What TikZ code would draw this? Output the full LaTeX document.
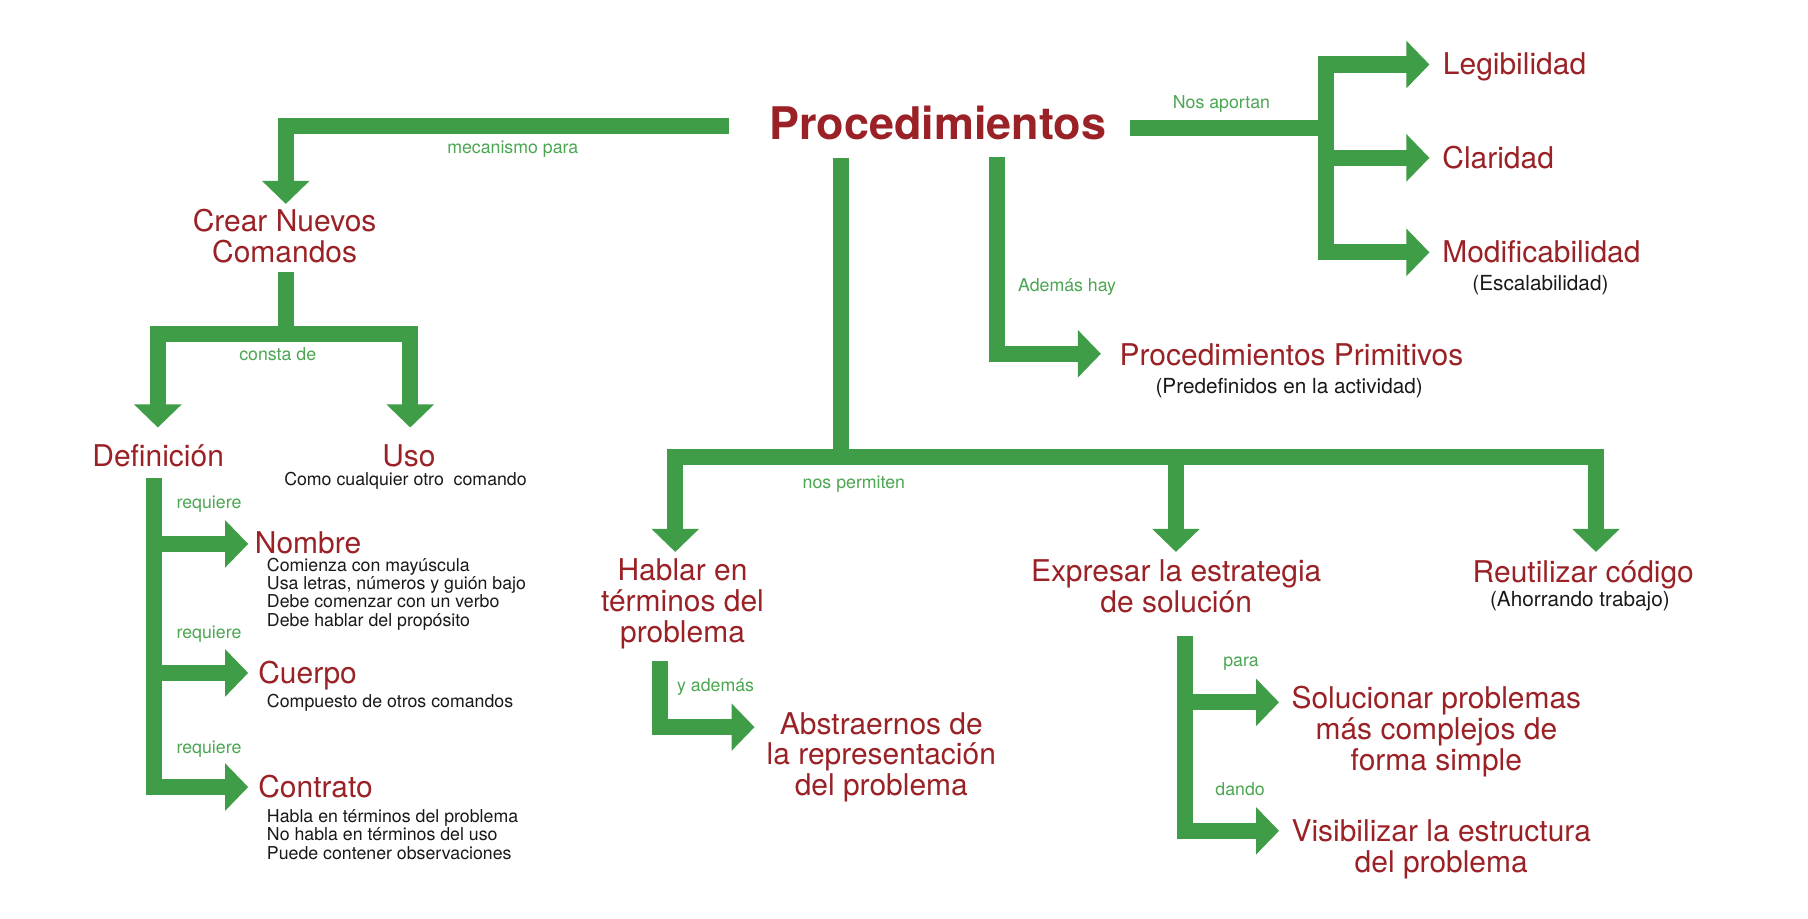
\documentclass[tikz,border=0pt]{standalone}
\usepackage{fontspec}
\setmainfont{TeX Gyre Heros}
\usetikzlibrary{arrows.meta}
\definecolor{gr}{RGB}{63,157,71}
\definecolor{rd}{RGB}{154,34,38}
\definecolor{lab}{RGB}{76,166,82}
\definecolor{tx}{RGB}{25,25,25}
\newcommand{\mlc}[1]{\begin{tabular}[t]{@{}c@{}}#1\end{tabular}}
\newcommand{\mll}[1]{\begin{tabular}[t]{@{}l@{}}#1\end{tabular}}
\begin{document}
\begin{tikzpicture}[x=1pt,y=-1pt,
  conn/.style={draw=gr,line width=14pt,line join=miter,line cap=butt},
  arr/.style={conn,-{Triangle[width=40pt,length=20pt]}},
  arr2/.style={conn,{Triangle[width=40pt,length=20pt]}-{Triangle[width=40pt,length=20pt]}},
  big/.style={inner sep=0pt,text=rd,font=\fontsize{39}{39}\selectfont\bfseries},
  red/.style={inner sep=0pt,text=rd,font=\fontsize{26}{26}\selectfont},
  glab/.style={inner sep=0pt,text=lab,font=\fontsize{15.4}{15.4}\selectfont},
  small/.style={inner sep=0pt,text=tx,font=\fontsize{15.4}{15.2}\selectfont},
  paren/.style={inner sep=0pt,text=tx,font=\fontsize{18}{18}\selectfont}]
\useasboundingbox[fill=white] (0,0) rectangle (1569,797.5);

% ---- text nodes ----
\node[big,anchor=base] (proc) at (813.8,120.7) {Procedimientos};
\node[red,anchor=base] (crear) at (247,200.5) {\mlc{Crear Nuevos\\Comandos}};
\node[red,anchor=base west] (def) at (80,404.5) {Definición};
\node[red,anchor=base west] (uso) at (331.6,404.5) {Uso};
\node[small,anchor=base west] (usod) at (246.5,421) {Como cualquier otro\ \ comando};
\node[red,anchor=base west] (nom) at (221,480) {Nombre};
\node[small,anchor=base west] (nomd) at (231.5,496) {\mll{Comienza con mayúscula\\Usa letras, números y guión bajo\\Debe comenzar con un verbo\\Debe hablar del propósito}};
\node[red,anchor=base west] (cue) at (224,593) {Cuerpo};
\node[small,anchor=base west] (cued) at (231.5,614) {Compuesto de otros comandos};
\node[red,anchor=base west] (con) at (224,692) {Contrato};
\node[small,anchor=base west] (cond) at (231.5,714) {\mll{Habla en términos del problema\\No habla en términos del uso\\Puede contener observaciones}};
\node[glab,anchor=base west] (rq1) at (153,441) {requiere};
\node[glab,anchor=base west] (rq2) at (153,554) {requiere};
\node[glab,anchor=base west] (rq3) at (153,654) {requiere};
\node[glab,anchor=base] (mec) at (445,133) {mecanismo para};
\node[glab,anchor=base] (cons) at (241,312.5) {consta de};
\node[glab,anchor=base] (nos) at (1060,94) {Nos aportan};
\node[red,anchor=base west] (leg) at (1252,65) {Legibilidad};
\node[red,anchor=base west] (cla) at (1251.5,146) {Claridad};
\node[red,anchor=base west] (mod) at (1251.5,227.7) {Modificabilidad};
\node[paren,anchor=base] (esc) at (1336.8,251.7) {(Escalabilidad)};
\node[glab,anchor=base west] (adh) at (883.3,253) {Además hay};
\node[red,anchor=base west] (pp) at (971.4,316.8) {Procedimientos Primitivos};
\node[paren,anchor=base west] (ppd) at (1002.6,341.5) {(Predefinidos en la actividad)};
\node[glab,anchor=base] (perm) at (741,423.9) {nos permiten};
\node[red,anchor=base] (hab) at (592.3,504) {\mlc{Hablar en\\términos del\\problema}};
\node[glab,anchor=base west] (yad) at (587.4,600.4) {y además};
\node[red,anchor=base] (abs) at (764.8,637) {\mlc{Abstraernos de\\la representación\\del problema}};
\node[red,anchor=base] (exp) at (1020.7,505) {\mlc{Expresar la estrategia\\de solución}};
\node[red,anchor=base] (reu) at (1374,505.8) {Reutilizar código};
\node[paren,anchor=base] (aho) at (1371,526.6) {(Ahorrando trabajo)};
\node[glab,anchor=base west] (para) at (1061.4,578.7) {para};
\node[glab,anchor=base west] (dan) at (1054.6,690.7) {dando};
\node[red,anchor=base] (sol) at (1246.5,614.9) {\mlc{Solucionar problemas\\más complejos de\\forma simple}};
\node[red,anchor=base] (vis) at (1250.7,730.6) {\mlc{Visibilizar la estructura\\del problema}};

% ---- connector coordinates ----
\coordinate (pW) at (632.8,109.5);
\coordinate (pE) at (981,111);
\coordinate (jE) at (1151,111);
\coordinate (tLeg) at (1240.5,56);
\coordinate (tCla) at (1240.5,137);
\coordinate (tMod) at (1240.5,219);
\coordinate (tCrear) at (248,177);
\coordinate (sCrear) at (248.5,235.8);
\coordinate (jCrear) at (248.5,289.5);
\coordinate (tDef) at (137,371);
\coordinate (tUso) at (356,371);
\coordinate (sDef) at (133.4,414.6);
\coordinate (tNom) at (215.4,472);
\coordinate (tCue) at (215.4,584);
\coordinate (tCon) at (215.4,683);
\coordinate (sMain) at (730,137.4);
\coordinate (jMain) at (730,396.7);
\coordinate (tHab) at (586,479);
\coordinate (tExp) at (1020.5,479);
\coordinate (tReu) at (1385,479);
\coordinate (sAdh) at (865.5,136.6);
\coordinate (tPP) at (955.4,307);
\coordinate (sHab) at (572.7,573.8);
\coordinate (tAbs) at (654.8,631);
\coordinate (sExp) at (1028,551.8);
\coordinate (tSol) at (1110,609.5);
\coordinate (tVis) at (1110,721);

% ---- connectors ----
\draw[arr] (pW) -| (tCrear);
\draw[conn] (pE) -- (jE);
\draw[arr2] (tLeg) -- (tLeg -| jE) -- (tMod -| jE) -- (tMod);
\draw[arr] (tCla -| jE) -- (tCla);
\draw[conn] (sCrear) -- (jCrear);
\draw[arr2] (tDef) -- (tDef |- jCrear) -- (tUso |- jCrear) -- (tUso);
\draw[arr] (sDef) |- (tCon);
\draw[arr] (tNom -| sDef) -- (tNom);
\draw[arr] (tCue -| sDef) -- (tCue);
\draw[conn] (sMain) -- ([yshift=1pt]jMain);
\draw[arr2] (tHab) -- (tHab |- jMain) -- (tReu |- jMain) -- (tReu);
\draw[arr] (tExp |- jMain) -- (tExp);
\draw[arr] (sAdh) |- (tPP);
\draw[arr] (sHab) |- (tAbs);
\draw[arr] (sExp) |- (tVis);
\draw[arr] (tSol -| sExp) -- (tSol);
\end{tikzpicture}
\end{document}
